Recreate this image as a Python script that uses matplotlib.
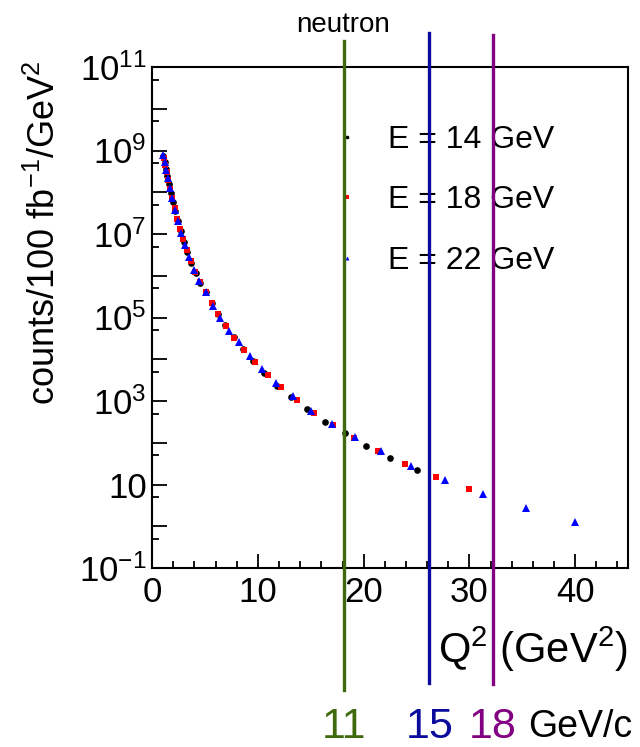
import numpy as np
import matplotlib
matplotlib.use('Agg')
import matplotlib.pyplot as plt
from matplotlib.ticker import FixedLocator, FuncFormatter, MultipleLocator

plt.rcParams['font.family'] = ['Liberation Sans', 'DejaVu Sans']
plt.rcParams['mathtext.fontset'] = 'custom'
plt.rcParams['mathtext.rm'] = 'Liberation Sans'
plt.rcParams['mathtext.it'] = 'Liberation Sans:italic'
plt.rcParams['mathtext.bf'] = 'Liberation Sans:bold'

# E = 14 GeV (black circles)
q2_14 = [1.05, 1.17, 1.30, 1.44, 1.60, 1.78, 1.97, 2.19, 2.43, 2.70, 3.00, 3.33,
         3.70, 4.10, 4.56, 5.06, 5.62, 6.24, 6.93, 7.70, 8.55, 9.50, 10.6, 11.83,
         13.13, 14.67, 16.3, 18.24, 20.2, 22.5, 25.05]
counts_14 = [7.4e8, 5.4e8, 3.7e8, 2.5e8, 1.6e8, 9.8e7, 5.9e7, 3.5e7, 2.0e7, 1.15e7,
             6.5e6, 3.7e6, 2.05e6, 1.15e6, 6.8e5, 4.0e5, 2.24e5, 1.2e5, 6.5e4, 3.4e4,
             1.8e4, 9.1e3, 4.6e3, 2.3e3, 1.23e3, 645, 316, 170, 83, 43, 22.4]

# E = 18 GeV (red squares)
q2_18 = [1.10, 1.23, 1.37, 1.53, 1.70, 1.90, 2.12, 2.36, 2.63, 2.93, 3.27, 3.64,
         4.06, 4.53, 5.05, 5.63, 6.25, 6.95, 7.77, 8.68, 9.73, 10.93, 12.16, 13.67,
         15.3, 17.07, 19.1, 21.4, 23.95, 26.85, 30.0]
counts_18 = [6.5e8, 4.5e8, 3.0e8, 1.95e8, 1.23e8, 7.2e7, 4.1e7, 2.35e7, 1.32e7, 7.4e6,
             4.1e6, 2.24e6, 1.23e6, 7.1e5, 4.1e5, 2.24e5, 1.2e5, 6.3e4, 3.16e4, 1.66e4,
             8.5e3, 4.2e3, 2.14e3, 1.05e3, 525, 263, 129, 63, 31, 15.5, 7.7]

# E = 22 GeV (blue triangles)
q2_22 = [1.04, 1.17, 1.32, 1.49, 1.68, 1.90, 2.15, 2.43, 2.74, 3.10, 3.50, 3.96,
         4.47, 5.05, 5.72, 6.41, 7.24, 8.18, 9.25, 10.4, 11.7, 13.3, 15.0, 17.0,
         19.2, 21.6, 24.5, 27.7, 31.3, 35.4, 40.0]
counts_22 = [7.6e8, 5.4e8, 3.5e8, 2.2e8, 1.3e8, 7.1e7, 3.8e7, 2.0e7, 1.07e7, 5.5e6,
             2.75e6, 1.4e6, 7.4e5, 4.1e5, 1.9e5, 1.0e5, 4.8e4, 2.6e4, 1.2e4, 5.8e3,
             2.75e3, 1.3e3, 590, 280, 135, 62, 27.5, 13.0, 6.0, 2.8, 1.29]

series_labels = ['E = 14 GeV', 'E = 18 GeV', 'E = 22 GeV']

# Q^2 reach lines (neutron) for beam momenta
cut_q2 = [18.1, 26.2, 32.2]
cut_labels = ['11', '15', '18']
cut_colors = ['#3f6a0c', '#0a0a9c', '#820082']

fig = plt.figure(figsize=(6.4, 7.47), dpi=100)
ax = fig.add_axes([0.2378, 0.2396, 0.7434, 0.6707])

h14, = ax.plot(q2_14, counts_14, 'o', color='black', ms=4.8, mew=0, zorder=3)
h18, = ax.plot(q2_18, counts_18, 's', color='#ff0000', ms=4.8, mew=0, zorder=4)
h22, = ax.plot(q2_22, counts_22, '^', color='#0000ff', ms=5.2, mew=0, zorder=5)

ax.set_yscale('log')
ax.set_xlim(0, 45)
ax.set_ylim(0.1, 1e11)

ax.yaxis.set_major_locator(FixedLocator([10.0 ** k for k in range(-1, 12)]))
ax.yaxis.set_minor_locator(FixedLocator([5 * 10.0 ** k for k in range(-1, 11)]))


def yfmt(v, pos):
    e = int(round(np.log10(v)))
    if e % 2 == 0:
        return ''
    if e == 1:
        return '10'
    return r'$10^{%d}$' % e


ax.yaxis.set_major_formatter(FuncFormatter(yfmt))
ax.yaxis.set_minor_formatter(FuncFormatter(lambda v, p: ''))
ax.xaxis.set_major_locator(MultipleLocator(10))
ax.xaxis.set_minor_locator(MultipleLocator(2))

ax.tick_params(which='both', direction='in', top=False, right=False, width=1.3)
ax.tick_params(axis='y', which='major', length=11, labelsize=25, pad=4)
ax.tick_params(axis='y', which='minor', length=5)
ax.tick_params(axis='x', which='major', length=10, labelsize=25, pad=6)
ax.tick_params(axis='x', which='minor', length=5)
for s in ax.spines.values():
    s.set_linewidth(1.5)

leg = ax.legend([h14, h18, h22], series_labels, loc='upper left',
                bbox_to_anchor=(331 / 640, (747 - 125) / 747),
                bbox_transform=fig.transFigure, frameon=False, fontsize=23,
                markerscale=0.55, handlelength=1.0, handletextpad=0.8,
                labelspacing=0.95, borderpad=0, borderaxespad=0)
leg.set_zorder(2)

tops = [1.052, 1.068, 1.064]
bots = [-0.2435, -0.2295, -0.2315]
for q, c, t, b in zip(cut_q2, cut_colors, tops, bots):
    ax.axvline(q, ymin=b, ymax=t, color=c, lw=2.4, clip_on=False, zorder=10)

ax.text(cut_q2[0], 1.070, 'neutron', transform=ax.get_xaxis_transform(),
        ha='center', va='baseline', fontsize=20)

for q, lab, c in zip(cut_q2, cut_labels, cut_colors):
    ax.text(q, -0.317, lab, transform=ax.get_xaxis_transform(), color=c,
            ha='center', va='center', fontsize=31)
ax.text(35.6, -0.317, 'GeV/c', transform=ax.get_xaxis_transform(),
        ha='left', va='center', fontsize=27)

ax.text(1.0, -0.163, r'Q$^2$ (GeV$^2$)', transform=ax.transAxes,
        ha='right', va='center', fontsize=30)

fig.text(45 / 640, (747 - 60) / 747, r'counts/100 fb$^{-1}$/GeV$^2$',
         rotation=90, ha='center', va='top', fontsize=26)

fig.savefig('out.png', dpi=100)
